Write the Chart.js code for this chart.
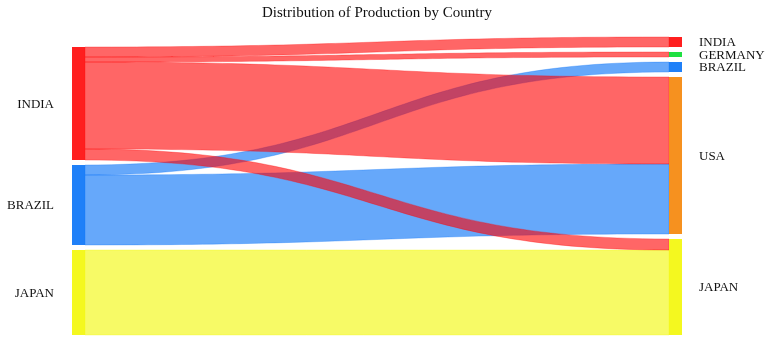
<!DOCTYPE html>
<html><head><meta charset="utf-8">
<script src="https://cdn.jsdelivr.net/npm/chart.js@4.4.1/dist/chart.umd.min.js"></script>
<style>html,body{margin:0;padding:0;background:#fff}#wrap{width:772px;height:356px;position:relative}</style>
</head><body><div id="wrap"><canvas id="c"></canvas></div>
<script>
// ---- data ----
const sourceNodes = ['INDIA', 'BRAZIL', 'JAPAN'];
const targetNodes = ['INDIA', 'GERMANY', 'BRAZIL', 'USA', 'JAPAN'];
const flowFrom = ['INDIA', 'INDIA', 'INDIA', 'INDIA', 'BRAZIL', 'BRAZIL', 'JAPAN'];
const flowTo = ['INDIA', 'GERMANY', 'USA', 'JAPAN', 'BRAZIL', 'USA', 'JAPAN'];
const flowValues = [10, 5, 87, 11, 10, 70, 85];
const chartTitle = 'Distribution of Production by Country';

// ---- styles ----
const nodeColors = {
  INDIA: [255, 0, 0], BRAZIL: [0, 110, 247], JAPAN: [242, 247, 0],
  GERMANY: [0, 220, 40], USA: [245, 130, 0]
};
const NODE_PAD = 5;      // value units between nodes
const NODE_W = 13 / 610; // node width in x units
const FONT = '13px "Liberation Serif", serif';

function sum(a) { return a.reduce((s, v) => s + v, 0); }
const srcTotals = sourceNodes.map(n => sum(flowValues.filter((v, i) => flowFrom[i] === n)));
const tgtTotals = targetNodes.map(n => sum(flowValues.filter((v, i) => flowTo[i] === n)));
const leftSpan = sum(srcTotals) + (sourceNodes.length - 1) * NODE_PAD;
const rightSpan = sum(tgtTotals) + (targetNodes.length - 1) * NODE_PAD;
const yMax = Math.max(leftSpan, rightSpan);

function layoutColumn(names, totals, span) {
  const out = {};
  let y = yMax - span;
  names.forEach((n, i) => { out[n] = { y0: y, y1: y + totals[i] }; y += totals[i] + NODE_PAD; });
  return out;
}
const leftNodes = layoutColumn(sourceNodes, srcTotals, leftSpan);
const rightNodes = layoutColumn(targetNodes, tgtTotals, rightSpan);

function rgba(c, a) { return `rgba(${c[0]},${c[1]},${c[2]},${a})`; }

const sankeyPlugin = {
  id: 'sankey',
  afterDatasetsDraw(chart) {
    const ctx = chart.ctx, xs = chart.scales.x, ys = chart.scales.y;
    const srcOff = {}, tgtOff = {};
    sourceNodes.forEach(n => srcOff[n] = leftNodes[n].y0);
    targetNodes.forEach(n => tgtOff[n] = rightNodes[n].y0);
    const idx = flowValues.map((v, i) => i);
    const startY = {}, endY = {};
    sourceNodes.forEach(s => {
      idx.filter(i => flowFrom[i] === s)
        .sort((a, b) => targetNodes.indexOf(flowTo[a]) - targetNodes.indexOf(flowTo[b]))
        .forEach(i => { startY[i] = srcOff[s]; srcOff[s] += flowValues[i]; });
    });
    targetNodes.forEach(t => {
      idx.filter(i => flowTo[i] === t)
        .sort((a, b) => sourceNodes.indexOf(flowFrom[a]) - sourceNodes.indexOf(flowFrom[b]))
        .forEach(i => { endY[i] = tgtOff[t]; tgtOff[t] += flowValues[i]; });
    });
    const x0 = xs.getPixelForValue(NODE_W), x1 = xs.getPixelForValue(1 - NODE_W);
    const xm = (x0 + x1) / 2;
    ctx.save();
    // draw later sources first so the first source's flows sit on top
    idx.slice().reverse().forEach(i => {
      const a0 = ys.getPixelForValue(startY[i]), b0 = ys.getPixelForValue(startY[i] + flowValues[i]);
      const a1 = ys.getPixelForValue(endY[i]), b1 = ys.getPixelForValue(endY[i] + flowValues[i]);
      ctx.beginPath();
      ctx.moveTo(x0, a0);
      ctx.bezierCurveTo(xm, a0, xm, a1, x1, a1);
      ctx.lineTo(x1, b1);
      ctx.bezierCurveTo(xm, b1, xm, b0, x0, b0);
      ctx.closePath();
      const c = nodeColors[flowFrom[i]];
      ctx.fillStyle = rgba(c, 0.6);
      ctx.fill();
      ctx.strokeStyle = rgba(c, 0.6);
      ctx.lineWidth = 0.5;
      ctx.stroke();
    });
    const drawNodes = (names, pos, xa, xb) => {
      names.forEach(n => {
        const top = ys.getPixelForValue(pos[n].y0), bot = ys.getPixelForValue(pos[n].y1);
        ctx.fillStyle = rgba(nodeColors[n], 0.88);
        ctx.fillRect(xs.getPixelForValue(xa), top, xs.getPixelForValue(xb) - xs.getPixelForValue(xa), bot - top);
      });
    };
    drawNodes(sourceNodes, leftNodes, 0, NODE_W);
    drawNodes(targetNodes, rightNodes, 1 - NODE_W, 1);
    ctx.font = FONT;
    ctx.fillStyle = '#111';
    ctx.textBaseline = 'middle';
    ctx.textAlign = 'right';
    sourceNodes.forEach(n => {
      const yc = ys.getPixelForValue((leftNodes[n].y0 + leftNodes[n].y1) / 2);
      ctx.fillText(n, xs.getPixelForValue(0) - 18, yc + 1);
    });
    ctx.textAlign = 'left';
    targetNodes.forEach(n => {
      const yc = ys.getPixelForValue((rightNodes[n].y0 + rightNodes[n].y1) / 2);
      ctx.fillText(n, xs.getPixelForValue(1) + 17, yc + 1);
    });
    ctx.restore();
  }
};

new Chart(document.getElementById('c'), {
  type: 'scatter',
  data: { datasets: [{ data: [] }] },
  options: {
    responsive: true, maintainAspectRatio: false, animation: false,
    layout: { padding: { left: 72, right: 90, top: 0, bottom: 21 } },
    plugins: {
      legend: { display: false }, tooltip: { enabled: false },
      title: {
        display: true, text: chartTitle, fullSize: false, color: '#111',
        font: { family: '"Liberation Serif", serif', size: 15, weight: 'normal' },
        padding: { top: 4, bottom: 15 }
      }
    },
    scales: {
      x: { type: 'linear', min: 0, max: 1, display: false },
      y: { type: 'linear', min: 0, max: yMax, reverse: true, display: false }
    }
  },
  plugins: [sankeyPlugin]
});
</script></body></html>
